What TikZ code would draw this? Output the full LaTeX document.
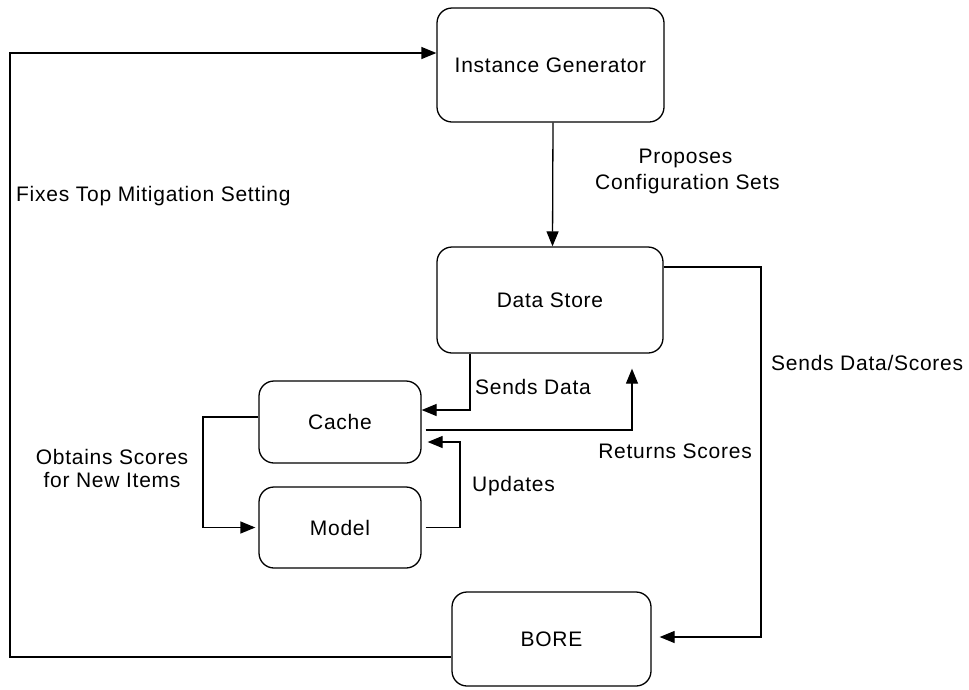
\documentclass[tikz,border=0pt]{standalone}
\usepackage{fontspec}
\setmainfont{Liberation Sans}[LetterSpace=3.5]
\usetikzlibrary{arrows.meta}
\begin{document}
\begin{tikzpicture}[x=1pt,y=-1pt,
  box/.style={draw, line width=1.3pt, rounded corners=15pt, inner sep=0pt,
              font=\fontsize{21}{25}\selectfont},
  lbl/.style={inner sep=0pt, font=\fontsize{21}{25}\selectfont},
  flow/.style={line width=1.3pt, -{Triangle[length=15pt,width=12pt]}}]
\useasboundingbox (0,0) rectangle (969,689);

% components
\node[box, minimum width=227pt, minimum height=114pt] (gen)   at (550.5,65)  {Instance Generator};
\node[box, minimum width=226pt, minimum height=106pt] (store) at (550,300)   {Data Store};
\node[box, minimum width=162pt, minimum height=82pt]  (cache) at (340,422)   {Cache};
\node[box, minimum width=162pt, minimum height=81pt]  (model) at (340,527.5) {Model};
\node[box, minimum width=199pt, minimum height=94pt]  (bore)  at (551.5,639) {BORE};

% bend points of the routed connectors
\coordinate (rt) at (761,267);
\coordinate (lt) at (10,53);
\coordinate (up) at (460,442);
\coordinate (ob) at (203,470);

% generator -> data store
\draw[flow] ([xshift=2.5pt]gen.south) -- ([xshift=2.5pt]store.north);
% data store -> BORE
\draw[flow, shorten >=8pt] ([yshift=33pt]store.east) -- (rt) |- ([yshift=2pt]bore.east);
% BORE -> generator
\draw[flow] ([yshift=-18pt]bore.west) -| (lt) -- ([yshift=12pt]gen.west);
% data store -> cache
\draw[flow] ([xshift=-80pt]store.south) |- ([yshift=12pt]cache.east);
% cache -> data store
\draw[flow, shorten >=15pt] ([xshift=4pt,yshift=-8pt]cache.east) -| ([xshift=82pt]store.south);
% model -> cache
\draw[flow] ([xshift=4pt]model.east) -| (up) -- ([xshift=6pt,yshift=-20pt]cache.east);
% cache -> model
\draw[flow, shorten >=3pt] ([yshift=5pt]cache.west) -| (ob) |- (model.west);

% connector labels
\node[lbl, anchor=base]      (prop1) at (685.5,163)  {Proposes};
\node[lbl, anchor=base]      (prop2) at (687.5,189.5){Configuration Sets};
\node[lbl, anchor=base west] (fix)   at (16,201)     {Fixes Top Mitigation Setting};
\node[lbl, anchor=base west] (sds)   at (771,370)    {Sends Data/Scores};
\node[lbl, anchor=base west] (sd)    at (475,394)    {Sends Data};
\node[lbl, anchor=base east] (ret)   at (752,458)    {Returns Scores};
\node[lbl, anchor=base west] (upd)   at (472,491)    {Updates};
\node[lbl, anchor=base]      (obt1)  at (112,464)    {Obtains Scores};
\node[lbl, anchor=base]      (obt2)  at (112,487.3)  {for New Items};
\end{tikzpicture}
\end{document}
